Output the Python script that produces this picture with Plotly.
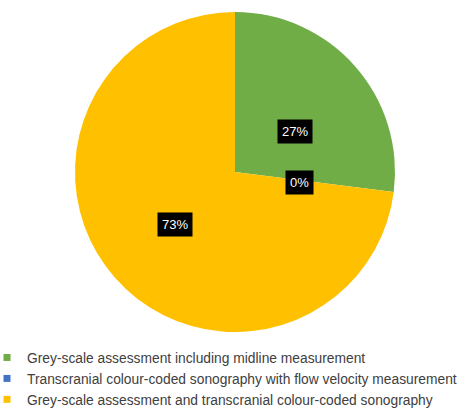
import math
import plotly.graph_objects as go

labels = [
    "Grey-scale assessment including midline measurement",
    "Transcranial colour-coded sonography with flow velocity measurement",
    "Grey-scale assessment and transcranial colour-coded sonography",
]
values = [27, 0, 73]
colors = ["#70AD47", "#4472C4", "#FFC000"]

W, H = 459, 418
dom_x = [75 / W, 395 / W]
dom_y = [1 - 332 / H, 1 - 12 / H]

fig = go.Figure()
fig.add_trace(go.Pie(
    labels=labels, values=values, sort=False, direction="clockwise", rotation=0,
    marker=dict(colors=colors, line=dict(width=0)),
    textinfo="none", hoverinfo="label+percent", showlegend=False,
    domain=dict(x=dom_x, y=dom_y),
))

# legend entries (one group per category for spacing)
for i, (lab, col) in enumerate(zip(labels, colors)):
    fig.add_trace(go.Scatter(
        x=[None], y=[None], mode="markers", name=lab, legendgroup=str(i),
        marker=dict(symbol="square", size=7, color=col), hoverinfo="skip",
    ))

# percentage labels at half radius along each slice bisector
total = sum(values)
r_px = min((dom_x[1] - dom_x[0]) * W, (dom_y[1] - dom_y[0]) * H) / 2
cx = (dom_x[0] + dom_x[1]) / 2
cy = (dom_y[0] + dom_y[1]) / 2
cum = 0.0
annotations = []
for v in values:
    frac = v / total
    mid = (cum + frac / 2) * 2 * math.pi
    cum += frac
    ax = cx + 0.5 * r_px * math.sin(mid) / W
    ay = cy + 0.5 * r_px * math.cos(mid) / H
    annotations.append(dict(
        x=ax, y=ay, xref="paper", yref="paper", showarrow=False,
        text=f"{round(frac * 100)}%",
        font=dict(family="Liberation Sans, Arial", size=13, color="white"),
        bgcolor="black", borderpad=4,
    ))

fig.update_layout(
    width=W, height=H,
    margin=dict(l=0, r=0, t=0, b=0, autoexpand=False),
    paper_bgcolor="white", plot_bgcolor="white",
    xaxis=dict(visible=False), yaxis=dict(visible=False),
    annotations=annotations,
    showlegend=True,
    legend=dict(
        orientation="v", x=-13 / W, xanchor="left", y=1 - 342 / H, yanchor="top",
        tracegroupgap=6, traceorder="normal",
        font=dict(family="Liberation Sans, Arial", size=13.8, color="#404040"),
        bgcolor="rgba(0,0,0,0)",
    ),
)

fig.write_html("out.html")
